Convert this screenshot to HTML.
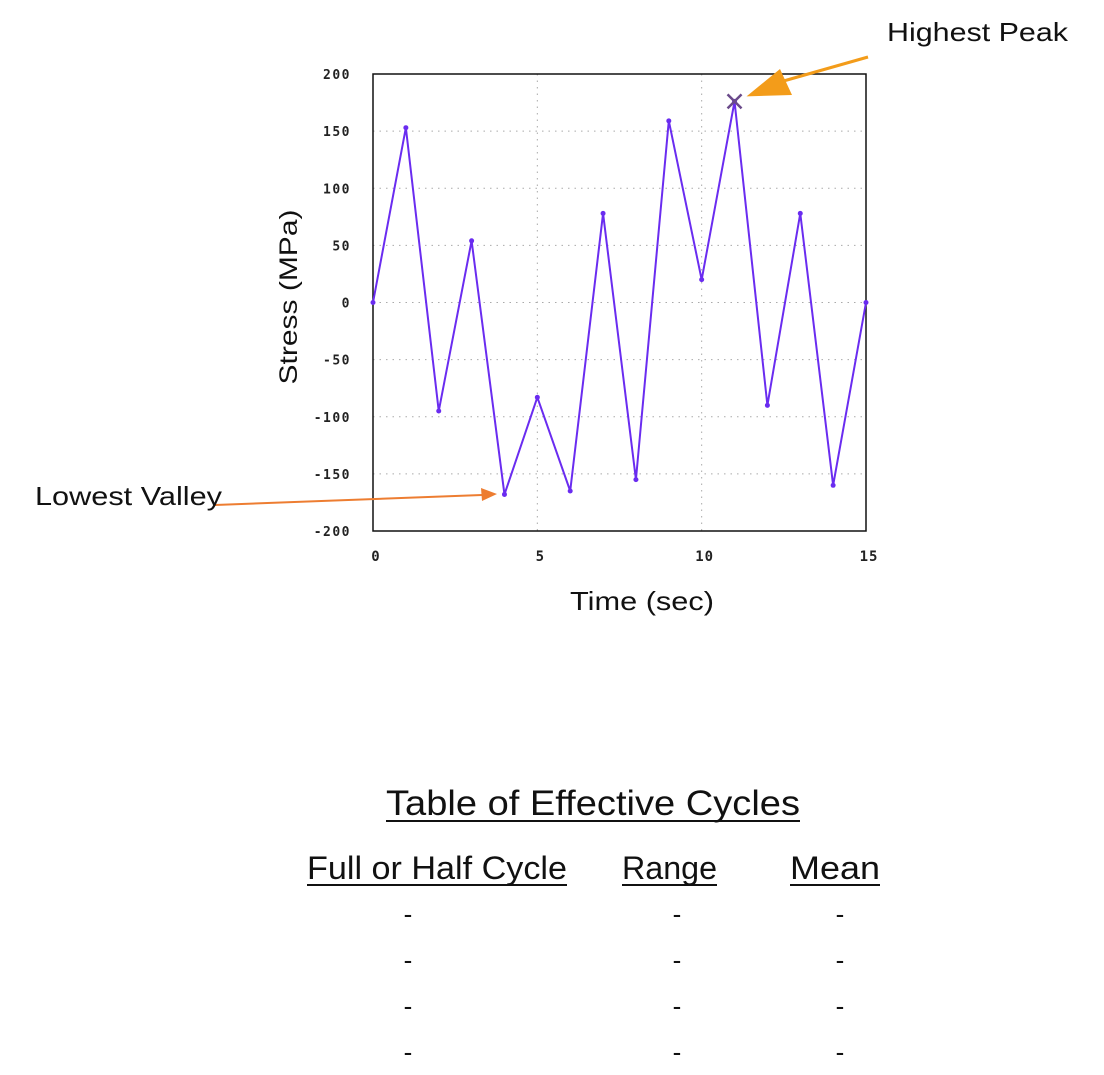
<!DOCTYPE html>
<html><head><meta charset="utf-8"><style>
body{margin:0;background:#fff;width:1104px;height:1075px;overflow:hidden;font-family:"Liberation Sans",sans-serif;}
svg{position:absolute;left:0;top:0}
</style></head><body>
<svg width="1104" height="1075">
<g id="grid"></g><g id="axes"></g><g id="series"></g><g id="ann"></g>
</svg>
<script>
const times=[0,1,2,3,4,5,6,7,8,9,10,11,12,13,14,15];
const stress=[0,153,-95,54,-168,-83,-165,78,-155,159,20,176,-90,78,-160,0];
const yTicks=[200,150,100,50,0,-50,-100,-150,-200];
const xTicks=[0,5,10,15];
const peakIndex=11;
const L=373,R=866,T=74,B=531;
const xs=t=>L+(t-0)/(15-0)*(R-L);
const ys=v=>B-(v+200)/400*(B-T);
const NS="http://www.w3.org/2000/svg";
function mk(tag,attrs,parent,text){const e=document.createElementNS(NS,tag);for(const k in attrs)e.setAttribute(k,attrs[k]);if(text!=null)e.textContent=text;parent.appendChild(e);return e;}
const grid=document.getElementById('grid'),axes=document.getElementById('axes'),series=document.getElementById('series'),ann=document.getElementById('ann');
yTicks.forEach(v=>{
  if(v!==200&&v!==-200){const g=mk('line',{x1:L,x2:R,y1:ys(v),y2:ys(v),stroke:'#aaa','stroke-width':1,'stroke-dasharray':'1.5,5'},grid);
  
  }
  const t=mk('text',{x:351,y:ys(v)+5,'text-anchor':'end','font-size':13,'font-weight':'bold','letter-spacing':'1.5','font-family':'"DejaVu Sans Mono",monospace',fill:'#222'},axes,String(v));
  
  
});
xTicks.forEach(v=>{
  if(v!==0&&v!==15){const g=mk('line',{x1:xs(v),x2:xs(v),y1:T,y2:B,stroke:'#aaa','stroke-width':1,'stroke-dasharray':'1.5,5'},grid);
  
  }
  const t=mk('text',{x:xs(v)+3,y:561,'text-anchor':'middle','font-size':14,'font-weight':'bold','letter-spacing':'1','font-family':'"DejaVu Sans Mono",monospace',fill:'#222'},axes,String(v));
  
  
});
const fr=mk('rect',{x:L,y:T,width:R-L,height:B-T,fill:'none',stroke:'#111','stroke-width':1.5},axes);


const yt=mk('text',{x:0,y:0,transform:'translate(297,297) rotate(-90)','text-anchor':'middle','font-size':25,textLength:175,lengthAdjust:'spacingAndGlyphs',fill:'#111'},axes,'Stress (MPa)');


const xt=mk('text',{x:642,y:610,'text-anchor':'middle','font-size':26,textLength:144,lengthAdjust:'spacingAndGlyphs',fill:'#111'},axes,'Time (sec)');


const pts=times.map((t,i)=>xs(t)+','+ys(stress[i])).join(' ');
const pl=mk('polyline',{points:pts,fill:'none',stroke:'#6a2cf0','stroke-width':2},series);


times.forEach((t,i)=>{const c=mk('circle',{cx:xs(t),cy:ys(stress[i]),r:2.5,fill:'#6a2cf0'},series);

});
const px=xs(times[peakIndex]),py=ys(stress[peakIndex]);
const pk=mk('path',{d:`M${px-7},${py-7}L${px+7},${py+7}M${px+7},${py-7}L${px-7},${py+7}`,stroke:'#6a4a8a','stroke-width':2.5},series);


const hl=mk('line',{x1:868,y1:57,x2:780,y2:82,stroke:'#f39c1a','stroke-width':3},ann);


const hh=mk('polygon',{points:`${px+12},${py-5} 780,69 792,95`,fill:'#f39c1a'},ann);


const ht=mk('text',{x:887,y:41,'font-size':26,textLength:181,lengthAdjust:'spacingAndGlyphs',fill:'#111'},ann,'Highest Peak');


const vl=mk('line',{x1:215,y1:505,x2:482,y2:495,stroke:'#ed7d31','stroke-width':2},ann);


const vh=mk('polygon',{points:'497,494 481,488 482,501',fill:'#ed7d31'},ann);


const vt=mk('text',{x:35,y:505,'font-size':26,textLength:187,lengthAdjust:'spacingAndGlyphs',fill:'#111'},ann,'Lowest Valley');


function tx(x,y,s,size,len,name){const a={x:x,y:y,'text-anchor':'middle','font-size':size,fill:'#111'};if(len){a.textLength=len;a.lengthAdjust='spacingAndGlyphs';}
const t=mk('text',a,ann,s);


if(len){const u=mk('line',{x1:x-len/2,x2:x+len/2,y1:y+6,y2:y+6,stroke:'#111','stroke-width':2},ann);

}
return t;}
tx(593,815,'Table of Effective Cycles',35,414,'table-title');
tx(437,879,'Full or Half Cycle',32,260,'header-cycle');
tx(669.5,879,'Range',32,95,'header-range');
tx(835,879,'Mean',32,90,'header-mean');
[923,969,1015,1061].forEach(y=>{tx(408,y,'-',26,0,'cell-cycle');tx(677,y,'-',26,0,'cell-range');tx(840,y,'-',26,0,'cell-mean');});
</script>
</body></html>
